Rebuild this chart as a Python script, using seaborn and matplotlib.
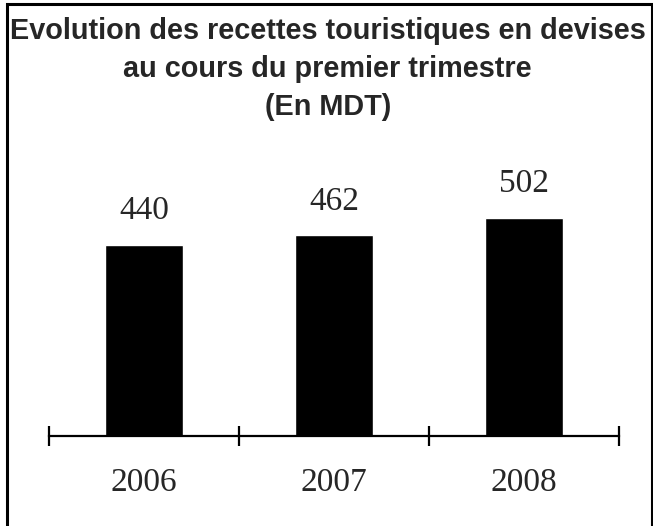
import matplotlib
matplotlib.use("Agg")
import matplotlib.pyplot as plt
import matplotlib.patches as patches
import seaborn as sns
import pandas as pd

years = ["2006", "2007", "2008"]
recettes = [440, 462, 502]
title = "Evolution des recettes touristiques en devises\nau cours du premier trimestre\n(En MDT)"

sns.set_style("white")
plt.rcParams['font.family'] = ['Liberation Serif', 'DejaVu Serif']

df = pd.DataFrame({"annee": years, "recettes": recettes})

fig = plt.figure(figsize=(6.53, 5.26), dpi=100)
ax = fig.add_axes([49 / 653, 90 / 526, 570 / 653, 304 / 526])

sns.barplot(data=df, x="annee", y="recettes", color="black", width=0.41,
            saturation=1, ax=ax)

for i, v in enumerate(recettes):
    ax.annotate(str(v), (i, v), xytext=(0, 24.5), textcoords="offset points",
                ha="center", va="center", fontsize=24)

ax.set_xlim(-0.5, 2.5)
ax.set_ylim(0, 700)
ax.set_xlabel("")
ax.set_ylabel("")
ax.set_yticks([])
for s in ["top", "left", "right"]:
    ax.spines[s].set_visible(False)
ax.spines["bottom"].set_linewidth(1.6)
ax.spines["bottom"].set_color("black")

# labels under the bars, tick marks between categories
ax.tick_params(axis="x", which="major", length=0, pad=23, labelsize=24)
ax.set_xticks([-0.5, 0.5, 1.5, 2.5], minor=True)
ax.tick_params(axis="x", which="minor", direction="inout", length=14,
               width=1.6, color="black", bottom=True)

fig.text(0.502, 0.967, title, ha="center", va="top", fontsize=20.8,
         fontweight="bold", family=["Liberation Sans", "DejaVu Sans"],
         linespacing=1.45)

border = patches.Rectangle((6.5 / 653, -0.02), 645 / 653, 1.012, transform=fig.transFigure,
                           fill=False, edgecolor="black", linewidth=2.2, clip_on=False)
fig.patches.append(border)

fig.savefig("out.png", dpi=100)
